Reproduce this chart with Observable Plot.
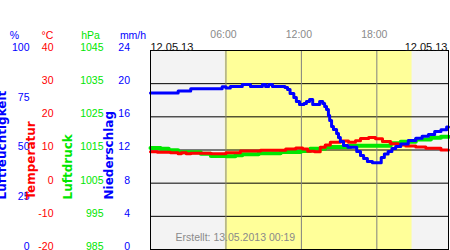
<!DOCTYPE html>
<html><head><meta charset="utf-8">
<script src="https://cdn.jsdelivr.net/npm/d3@7"></script>
<script src="https://cdn.jsdelivr.net/npm/@observablehq/plot@0.6"></script>
<style>body{margin:0;background:#fff}#chart svg{display:block}</style>
</head><body><div id="chart"></div>
<script>
// ---- data (hours since 00:00 on 12.05.13) ----
const humHours = [0,2.2,3.2,5.7,6.0,6.35,7.3,7.95,8.9,9.15,9.4,9.7,10.7,10.9,11.1,11.4,11.6,11.85,12.2,12.4,12.65,12.9,13.45,13.7,13.85,14.0,14.15,14.25,14.4,14.55,14.8,14.95,15.1,15.35,15.7,16.4,16.7,16.95,17.25,17.65,18.35,18.6,18.9,19.2,19.5,19.9,20.5,21.1,21.6,22.1,22.6,23.1,23.55,23.7];
const humValues = [78.7,79.7,80.8,81.8,81.1,81.9,82.9,81.9,82.9,81.9,82.9,81.9,81.4,80.4,78.4,76.4,74.4,72.9,73.4,74.4,75.4,72.9,74.4,73.4,71.9,70.4,67.3,64.8,61.8,60.3,58.3,56.3,54.3,52.3,51.4,49.2,47.2,45.7,44.2,43.6,46.2,48.0,49.2,50.8,51.8,53.0,54.8,55.9,56.9,57.8,59.3,60.2,61.6,61.6];

const tempHours = [0,0.55,1.6,2.2,2.45,2.85,3.2,4.8,6.0,7.15,8.75,10.75,11.55,12.1,12.5,13.05,13.5,13.9,14.3,15.1,15.75,16.3,16.7,17.35,17.9,18.45,19.1,19.7,20.3,21.1,21.9,23.1,23.7];
const tempValues = [9.5,9.3,9.2,8.9,9.2,8.9,9.0,8.9,9.2,9.7,9.9,10.3,10.6,10.3,9.6,9.5,10.8,11.5,12.3,12.7,12.3,12.8,13.5,13.8,13.4,12.6,11.9,11.5,11.2,10.9,10.5,10.0,10.0];

const presHours = [0,0.8,1.45,2.2,4.0,4.8,6.0,6.75,7.3,8.6,10.35,11.95,12.7,13.9,15.9,19.1,19.9,21.1,22.3,23.1,23.7];
const presValues = [1015.6,1015.4,1014.9,1014.3,1013.9,1013.2,1013.1,1013.4,1013.7,1014.0,1014.4,1014.7,1015.4,1015.9,1016.3,1017.0,1017.5,1018.2,1018.7,1019.0,1019.0];

const humTicks = [0,25,50,75,100];
const tempTicks = [-20,-10,0,10,20,30,40];
const presTicks = [985,995,1005,1015,1025,1035,1045];
const precTicks = [0,4,8,12,16,20,24];

const timeHours = [6,12,18];
const timeLabels = ["06:00","12:00","18:00"];
const dayStart = 5.95, dayEnd = 20.8, endHour = 23.7;
const dateLabel = "12.05.13";
const footer = "Erstellt: 13.05.2013 00:19";
const units = ["%","°C","hPa","mm/h"];
const titles = ["Luftfeuchtigkeit","Temperatur","Luftdruck","Niederschlag"];

// ---- map every quantity onto the shared temperature axis (-20..40) ----
const fromHum = h => -20 + h * 0.6;
const fromPres = p => p - 1005;
const fromPrec = r => -20 + r * 2.5;

const hum = humHours.map((h, i) => ({h, v: fromHum(humValues[i])}));
const temp = tempHours.map((h, i) => ({h, v: tempValues[i]}));
const pres = presHours.map((h, i) => ({h, v: fromPres(presValues[i])}));

const BLUE = "#0000ff", RED = "#ff0000", GREEN = "#00e600";
const colColors = [BLUE, RED, GREEN, BLUE];
const unitX = [14, 47, 90, 132.5];
const titleX = [5, 34.5, 71, 112];

const txt = d => d;
const marks = [
  Plot.rect([{a:0, b:endHour}], {x1:"a", x2:"b", y1:-20, y2:40, fill:"#f3f3f3"}),
  Plot.rect([{a:dayStart, b:dayEnd}], {x1:"a", x2:"b", y1:-20, y2:40, fill:"#ffff99"}),
  Plot.ruleY([-10,0,10,20,30], {stroke:"#000", strokeWidth:1}),
  Plot.ruleX(timeHours, {stroke:"#808080", strokeWidth:1}),
  Plot.line(pres, {x:"h", y:"v", stroke:GREEN, strokeWidth:4, curve:"step-after"}),
  Plot.line(temp, {x:"h", y:"v", stroke:RED, strokeWidth:3, curve:"step-after"}),
  Plot.line(hum, {x:"h", y:"v", stroke:BLUE, strokeWidth:3, curve:"step-after"}),
  Plot.frame({stroke:"#000", strokeWidth:1}),
  // tick label columns
  Plot.text(humTicks, {y: d => fromHum(d), text: d => String(d), frameAnchor:"left", dx:-121, dy:-3, textAnchor:"end", fill:BLUE}),
  Plot.text(tempTicks, {y: d => d, text: d => String(d), frameAnchor:"left", dx:-97, dy:-3, textAnchor:"end", fill:RED}),
  Plot.text(presTicks, {y: d => fromPres(d), text: d => String(d), frameAnchor:"left", dx:-47, dy:-3, textAnchor:"end", fill:GREEN}),
  Plot.text(precTicks, {y: d => fromPrec(d), text: d => String(d), frameAnchor:"left", dx:-20.5, dy:-3, textAnchor:"end", fill:BLUE}),
  // time labels on top
  Plot.text(timeLabels, {x: (d, i) => timeHours[i], text: txt, frameAnchor:"top", dy:-20, dx:-2.5, fill:"#8a8a8a"}),
  Plot.text([dateLabel], {text: txt, frameAnchor:"top-left", dy:-7, textAnchor:"start", fill:"#111", fontSize:11}),
  Plot.text([dateLabel], {text: txt, frameAnchor:"top-right", dx:-1, dy:-7, textAnchor:"end", fill:"#111", fontSize:11}),
  Plot.text([footer], {text: txt, frameAnchor:"bottom-left", dx:25, dy:-9, textAnchor:"start", fill:"#8a8a8a"})
];
units.forEach((u, i) => marks.push(
  Plot.text([u], {text: txt, frameAnchor:"top-left", dx: unitX[i] - 150, dy:-19, textAnchor:"middle", fill: colColors[i]})));
titles.forEach((t, i) => marks.push(
  Plot.text([t], {text: txt, frameAnchor:"bottom-left", dx: titleX[i] - 150, dy:-50, rotate:-90, textAnchor:"start",
    fill: colColors[i], fontWeight:"bold", fontFamily:"DejaVu Sans", fontSize:12})));

const chart = Plot.plot({
  width:450, height:250, marginTop:50, marginLeft:150, marginRight:2, marginBottom:1,
  x:{domain:[0,endHour], axis:null},
  y:{domain:[-20,40], axis:null},
  style:{fontFamily:"'Liberation Sans', Arial, sans-serif", fontSize:"10.5px", background:"#fff", overflow:"visible"},
  marks
});
document.getElementById("chart").append(chart);
</script>
</body></html>
